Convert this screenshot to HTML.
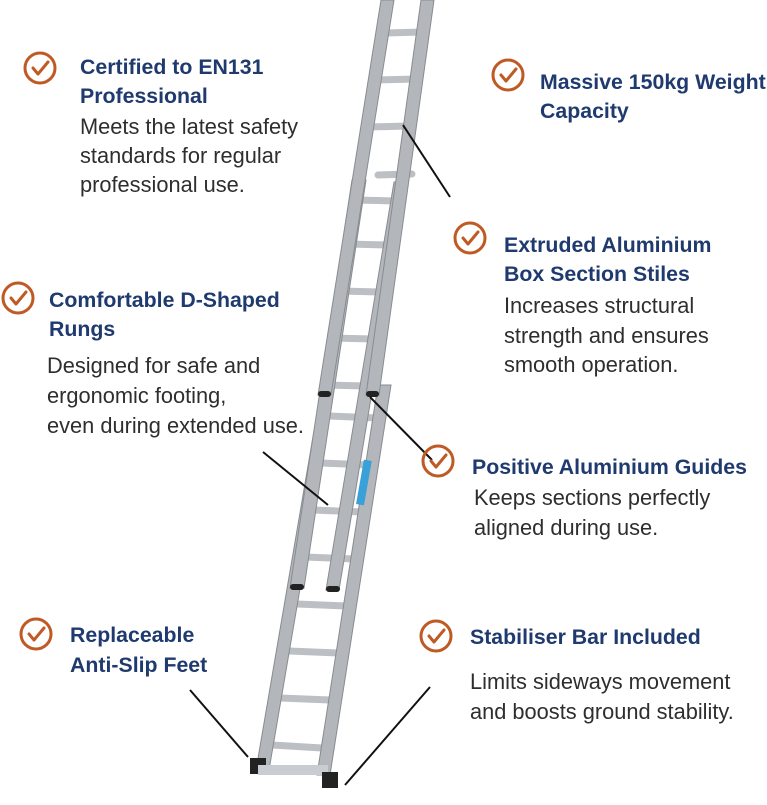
<!DOCTYPE html>
<html><head><meta charset="utf-8"><style>
html,body{margin:0;padding:0;background:#fff;}
svg{display:block;}
.h{font-family:"Liberation Sans",sans-serif;font-weight:bold;font-size:21.3px;fill:#1f3a6e;}
.b{font-family:"Liberation Sans",sans-serif;font-size:21.8px;fill:#2e2e2e;}
.ic circle{fill:none;stroke:#c05a24;stroke-width:3;}
.ic path{fill:none;stroke:#c05a24;stroke-width:3;stroke-linecap:round;stroke-linejoin:round;}
.st{fill:#b3b7bb;stroke:#878c91;stroke-width:1;}
.rg{stroke:#bcc0c4;stroke-width:7;stroke-linecap:round;}
.ld{stroke:#111;stroke-width:2;}
</style></head><body>
<svg width="767" height="805" viewBox="0 0 767 805">
<defs>
<g id="chk" class="ic"><circle cx="0" cy="0" r="15"/><path d="M-7,0 L-2,6 L8,-6"/></g>
</defs>
<g>
<line class="rg" x1="272" y1="745" x2="322" y2="748"/>
<line class="rg" x1="280" y1="698" x2="330" y2="700"/>
<line class="rg" x1="289" y1="651" x2="338" y2="653"/>
<line class="rg" x1="297" y1="604" x2="346" y2="606"/>
<line class="rg" x1="305" y1="557" x2="354" y2="559"/>
<line class="rg" x1="313" y1="510" x2="362" y2="512"/>
<line class="rg" x1="321" y1="463" x2="370" y2="465"/>
<line class="rg" x1="329" y1="416" x2="378" y2="418"/>
<polygon class="st" points="256,770 269,770 334,390 321,390"/>
<polygon class="st" points="317,775 330,775 391,385 378,385"/>
<rect x="250" y="758" width="16" height="16" fill="#222"/>
<rect x="258" y="765" width="70" height="10" fill="#c9cdd1"/>
<rect x="322" y="772" width="16" height="16" fill="#222"/>
<line class="rg" x1="325" y1="385" x2="365" y2="386"/>
<line class="rg" x1="332" y1="338" x2="372" y2="339"/>
<line class="rg" x1="340" y1="291" x2="380" y2="292"/>
<line class="rg" x1="347" y1="244" x2="387" y2="245"/>
<line class="rg" x1="355" y1="200" x2="395" y2="201"/>
<polygon class="st" points="290,588 304,588 366,180 352,180"/>
<polygon class="st" points="326,590 339,590 407,182 394,182"/>
<rect x="290" y="584" width="14" height="6" rx="3" fill="#222"/>
<rect x="326" y="586" width="14" height="6" rx="3" fill="#222"/>
<line class="rg" x1="378" y1="175" x2="412" y2="174"/>
<line class="rg" x1="370" y1="127" x2="408" y2="126"/>
<line class="rg" x1="378" y1="80" x2="416" y2="79"/>
<line class="rg" x1="385" y1="33" x2="423" y2="32"/>
<polygon class="st" points="318,395 331,395 394,0 381,0"/>
<polygon class="st" points="366,395 379,395 434,0 421,0"/>
<rect x="318" y="391" width="13" height="6" rx="3" fill="#222"/>
<rect x="366" y="391" width="13" height="6" rx="3" fill="#222"/>
<rect x="360" y="460" width="8" height="45" fill="#3aa0d8" transform="rotate(10 364 482)"/>
</g>
<line class="ld" x1="403" y1="125" x2="450" y2="197"/>
<line class="ld" x1="263" y1="452" x2="328" y2="505"/>
<line class="ld" x1="370" y1="397" x2="432" y2="460"/>
<line class="ld" x1="190" y1="690" x2="248" y2="757"/>
<line class="ld" x1="430" y1="687" x2="345" y2="785"/>
<use href="#chk" x="40" y="68"/>
<use href="#chk" x="508" y="75"/>
<use href="#chk" x="470" y="238"/>
<use href="#chk" x="18" y="298"/>
<use href="#chk" x="438" y="461"/>
<use href="#chk" x="36" y="634"/>
<use href="#chk" x="436" y="636"/>
<text class="h" x="80" y="74">Certified to EN131</text>
<text class="h" x="80" y="103">Professional</text>
<text class="b" x="80" y="134">Meets the latest safety</text>
<text class="b" x="80" y="163">standards for regular</text>
<text class="b" x="80" y="192">professional use.</text>
<text class="h" x="540" y="89">Massive 150kg Weight</text>
<text class="h" x="540" y="118">Capacity</text>
<text class="h" x="504" y="252">Extruded Aluminium</text>
<text class="h" x="504" y="281">Box Section Stiles</text>
<text class="b" x="504" y="313">Increases structural</text>
<text class="b" x="504" y="343">strength and ensures</text>
<text class="b" x="504" y="372">smooth operation.</text>
<text class="h" x="49" y="307">Comfortable D-Shaped</text>
<text class="h" x="49" y="336">Rungs</text>
<text class="b" x="47" y="373">Designed for safe and</text>
<text class="b" x="47" y="403">ergonomic footing,</text>
<text class="b" x="47" y="433">even during extended use.</text>
<text class="h" x="472" y="474">Positive Aluminium Guides</text>
<text class="b" x="474" y="505">Keeps sections perfectly</text>
<text class="b" x="474" y="535">aligned during use.</text>
<text class="h" x="70" y="642">Replaceable</text>
<text class="h" x="70" y="672">Anti-Slip Feet</text>
<text class="h" x="470" y="644">Stabiliser Bar Included</text>
<text class="b" x="470" y="689">Limits sideways movement</text>
<text class="b" x="470" y="719">and boosts ground stability.</text>
</svg>
</body></html>
